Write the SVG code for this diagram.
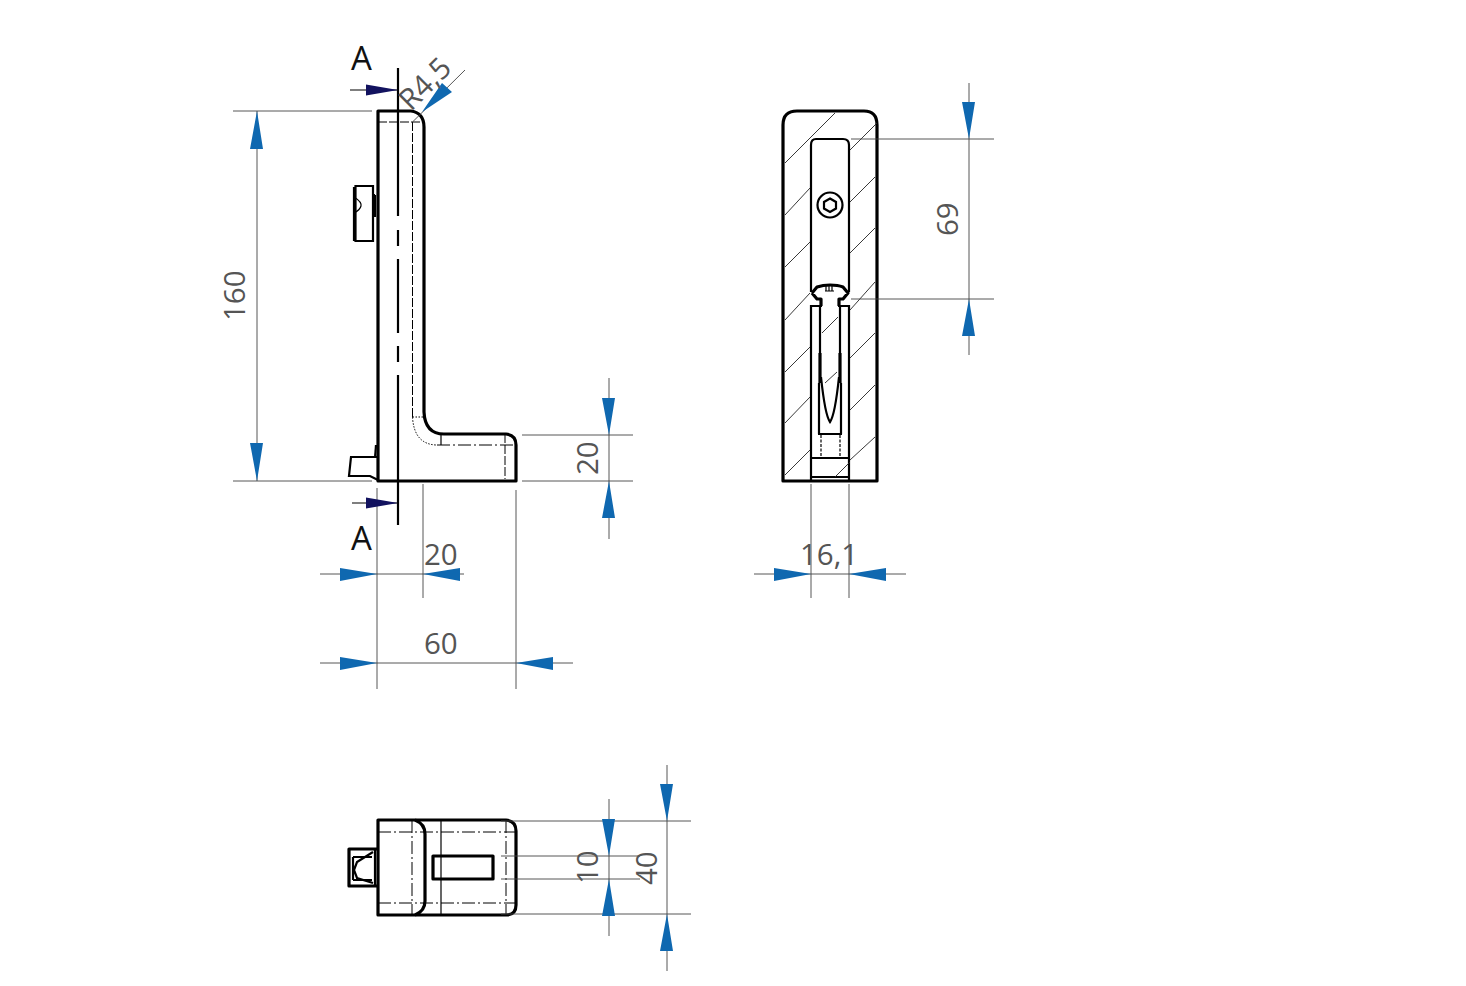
<svg xmlns="http://www.w3.org/2000/svg" width="1466" height="986" viewBox="0 0 1466 986">
<style>
.o{fill:none;stroke:#000;stroke-width:3.2;stroke-linejoin:round}
.t{fill:none;stroke:#000;stroke-width:2.200}
.d{fill:none;stroke:#000;stroke-width:1;stroke-dasharray:9 2}
.c{fill:none;stroke:#000;stroke-width:1;stroke-dasharray:13 3 2 3}
.y{fill:none;stroke:#000;stroke-width:1;stroke-dasharray:1.500 1.500}
.h{fill:none;stroke:#222;stroke-width:.9}
.k{fill:none;stroke:#000;stroke-width:1.200}
.m{fill:none;stroke:#444;stroke-width:.9}
.b{fill:#0f68b0}
.n{fill:#12125f}
text{font-family:"Open Sans","DejaVu Sans",sans-serif;font-size:29.500px;fill:#555}
.s{fill:#111;font-size:33px}
</style>
<rect width="1466" height="986" fill="#fff"/>
<g id="side-view">
<path class="o" d="M378 481V111H411Q424 113 424 127V412Q425 434 444 434H506Q516 435 516 445V481Z"/>
<path class="d" d="M378 122H424M412.500 122V417M505 434V479"/>
<path class="y" d="M412.500 417H424M412.500 417Q414 444 436 445"/>
<path class="c" d="M437 445H516"/>
<path class="k" d="M441 434V445"/>
<path class="t" d="M398 68V182M398 410V525"/>
<path class="t" d="M398 182V216M398 230V246M398 259V333M398 346V362M398 375V410"/>
<path class="t" d="M373 195H375M375 195V217M355.500 186H373V241H355.500ZM354 187V241"/>
<path class="k" stroke-width="1.500" d="M354 197Q362 202 361 206Q360 210 354 213"/>
<path class="t" d="M378 457H351L349 476H370L378 480"/>
<path class="t" d="M376 445L375 458"/>
</g>
<g id="section-view">
<path class="o" d="M783 481V125Q783 111 797 111H864Q877 111 877 125V481Z"/>
<path class="t" d="M811 292V145Q811 139 816 139H843Q849 139 849 145V292M811 481V306H822M849 481V306H838"/>
<circle class="t" cx="830" cy="205" r="12.500"/>
<path class="t" d="M830 198.500L836 202V208.500L830 212L824 208.500V202Z"/>
<path class="o" stroke-width="2.600" d="M812 293L817 287Q823 285 830 285Q838 285 843 287L848 293L843 299H839V306M812 293L817 299H821V306"/>
<path class="k" stroke-width="2" d="M826 291V286M829 291V286M832 291V286M825 291H834"/>
<path class="t" d="M820 306L820 353M840 306L840 353"/>
<path class="o" d="M820 353V383M840 353V383"/>
<path class="t" d="M819 383V434M841 383V434"/>
<path class="t" d="M821 377Q825 415 830 422Q835 415 839 377"/>
<path class="t" d="M818 434H842M811 458H849M811 477H849M783 481H877"/>
<path class="k" stroke-dasharray="3 1.500" stroke-width="3" d="M821 435V458M840 435V458"/>
<path class="h" d="M785 163L835 113M785 215L810 188M850 150L877 123M785 267L810 242M850 202L875 177M850 253L875 228M785 320L810 293M850 310L875 282M822 333L838 317M785 372L810 347M850 358L875 333M825 383L837 372M785 423L810 397M850 410L875 385M785 475L810 450M850 460L875 437M835 477L850 462"/>
<path class="m" d="M811 484V598M849 484V598M851 139H994M851 299H994"/>
</g>
<g id="bottom-view">
<path class="o" d="M378 820V915H506Q516 915 516 905V831Q516 821 506 820Z"/>
<path class="o" d="M415 820Q425 824 425 834V901Q425 911 415 915"/>
<path class="c" d="M378 832H516M378 903H516M412 820V915M506 820V915"/>
<path class="k" d="M441 820V915"/>
<path class="o" d="M433 856H493V879H433Z"/>
<path class="o" d="M377 849H349V886H377"/>
<path class="t" d="M375 850V885M353 857H372M353 880H372M353 857V880M373 852L357 862L354 870L357 878L373 883"/>
</g>
<g id="connectors">
<path class="m" d="M233 111H372M233 481H372M257 111V481M522 481H633M522 435H633M609 378V539M423 484V598M377 488V689M516 490V689M320 574H464M320 663H573M754 574H906M969 83V355M465 70L412.500 122M501 821H691M501 856H640M501 879H640M501 914H691M609 799V936M667 765V971"/>
<path class="k" stroke-width="1.500" d="M350 90H398M352 503H398"/>
<path class="n" d="M366 84.500L398 90L366 95.500ZM366 497.500L398 503L366 508.500Z"/>
<path class="b" d="M257 111L263 149H250ZM257 481L250 443H263ZM609 435L602 398H615ZM609 481L615 518H602ZM377 574L340 568V581ZM423 574L460 568V581ZM377 663L340 657V670ZM516 663L553 657V670ZM811 574L774 568V581ZM849 574L886 568V581ZM969 139L962 102H975ZM969 299L975 336H962ZM609 856L602 819H615ZM609 879L615 916H602ZM667 821L660 784H673ZM667 914L673 951H660ZM422 112L442 83L452 92Z"/>
</g>
<g id="labels">
<text class="s" x="351" y="70">A</text>
<text class="s" x="351" y="550">A</text>
<text transform="translate(411 112) rotate(-45)">R4,5</text>
<text transform="translate(245 321) rotate(-90)">160</text>
<text transform="translate(598 475) rotate(-90)">20</text>
<text x="424" y="565">20</text>
<text x="424" y="654">60</text>
<text x="800" y="565">16,1</text>
<text transform="translate(958 236) rotate(-90)">69</text>
<text transform="translate(598 884) rotate(-90)">10</text>
<text transform="translate(657 885) rotate(-90)">40</text>
</g>
</svg>
